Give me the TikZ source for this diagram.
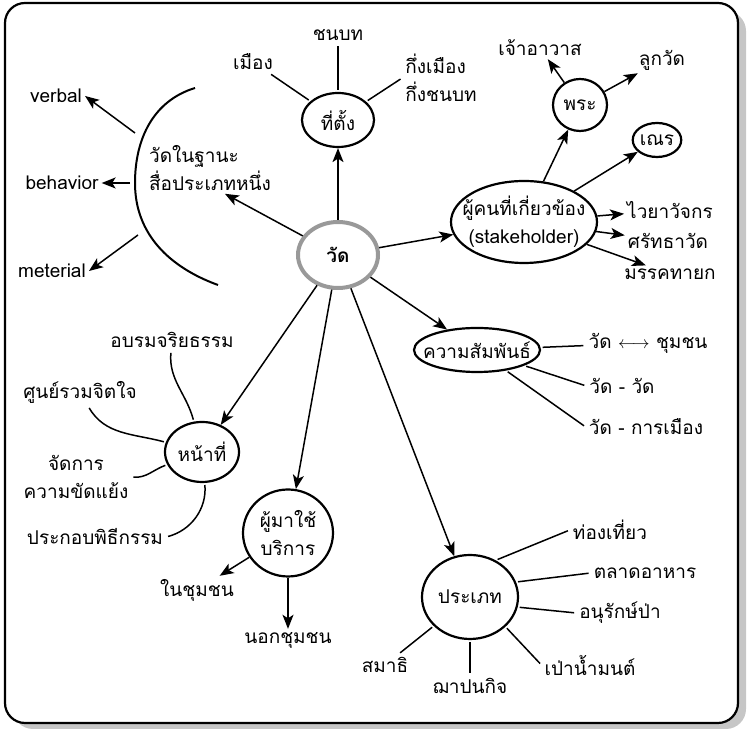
\documentclass[tikz,border=0pt]{standalone}
\usepackage{fontspec}
\newfontfamily\thaifont[Script=Thai]{Loma}
\usetikzlibrary{positioning}
\usetikzlibrary{shapes.geometric}
\usetikzlibrary{arrows.meta}

\tikzset{
	bubble/.style={draw, ellipse, line width=2.2pt, inner sep=0pt, align=center},
	leaf/.style={inner sep=3pt, align=center},
	arr/.style={->, line width=1.5pt},
	lnk/.style={line width=1.5pt, shorten <=2pt, shorten >=2pt},
	>={Stealth[length=14pt, width=11pt, inset=3.5pt]}
}

\begin{document}
\begin{tikzpicture}[x=1pt, y=1pt, on grid, nodes={font=\thaifont\fontsize{19}{28}\selectfont}]
		\useasboundingbox (0,0) rectangle (748,730);
		% frame with shadow
		\fill[gray!45, rounded corners=20pt] (13,1) rectangle (746,719);
		\draw[line width=2.2pt, fill=white, rounded corners=20pt] (5,7) rectangle (738,727);

		\node (wat) [draw=gray!80, ellipse, line width=4pt, minimum width=80pt, minimum height=66pt, inner sep=0pt] at (338,475) {\bfseries วัด};

		\node (tt) [bubble, above=135pt of wat, minimum width=72pt, minimum height=54pt] {ที่ตั้ง};
		\node (muang) [leaf, above left=58pt and 85pt of tt] {เมือง};
		\node (chonbot) [leaf, above=85pt of tt] {ชนบท};
		\node (kueng) [leaf, align=left, above right=42pt and 103pt of tt] {กึ่งเมือง\\กึ่งชนบท};

		\node (suea) [leaf, align=left, above left=87pt and 128pt of wat] {วัดในฐานะ\\สื่อประเภทหนึ่ง};
		\node (verbal) [leaf, above left=72pt and 154pt of suea] {verbal};
		\node (behavior) [leaf, below left=15pt and 148pt of suea] {behavior};
		\node (meterial) [leaf, below left=103pt and 158pt of suea] {meterial};
		\coordinate (b1) at (135,597);
		\coordinate (b2) at (130,547);
		\coordinate (b3) at (138,495);

		\node (people) [bubble, inner xsep=-20pt, above right=33pt and 186pt of wat, minimum width=146pt, minimum height=82pt] {ผู้คนที่เกี่ยวข้อง\\(stakeholder)};
		\node (phra) [bubble, above right=117pt and 56pt of people, minimum width=54pt, minimum height=52pt] {พระ};
		\node (chao) [leaf, above left=57pt and 40pt of phra] {เจ้าอาวาส};
		\node (lukwat) [leaf, above right=45pt and 82pt of phra] {ลูกวัด};
		\node (nen) [bubble, above right=82pt and 133pt of people, minimum width=44pt, minimum height=34pt] {เณร};
		\node (waiya) [leaf, above right=12pt and 146pt of people] {ไวยาวัจกร};
		\node (sattha) [leaf, below right=19pt and 144pt of people] {ศรัทธาวัด};
		\node (mak) [leaf, below right=52pt and 146pt of people] {มรรคทายก};

		\node (samphan) [bubble, inner xsep=-12pt, below right=95pt and 139pt of wat, minimum width=126pt, minimum height=44pt] {ความสัมพันธ์};
		\node (wc) [leaf, above right=7pt and 171pt of samphan] {วัด $\longleftrightarrow$ ชุมชน};
		\node (ww) [leaf, below right=36pt and 145pt of samphan] {วัด - วัด};
		\node (wp) [leaf, below right=77pt and 169pt of samphan] {วัด - การเมือง};

		\node (nathi) [bubble, below left=197pt and 136pt of wat, minimum width=74pt, minimum height=60pt] {หน้าที่};
		\node (oprom) [leaf, above left=112pt and 30pt of nathi] {อบรมจริยธรรม};
		\node (sun) [leaf, above left=60pt and 122pt of nathi] {ศูนย์รวมจิตใจ};
		\node (jadkan) [leaf, below left=25pt and 126pt of nathi] {จัดการ\\ความขัดแย้ง};
		\node (prakop) [leaf, below left=85pt and 107pt of nathi] {ประกอบพิธีกรรม};

		\node (phuma) [bubble, below left=278pt and 50pt of wat, minimum width=90pt, minimum height=87pt] {ผู้มาใช้\\บริการ};
		\node (nai) [leaf, below left=57pt and 91pt of phuma] {ในชุมชน};
		\node (nok) [leaf, below=107pt of phuma] {นอกชุมชน};

		\node (praphet) [bubble, below right=342pt and 132pt of wat, minimum width=96pt, minimum height=84pt] {ประเภท};
		\node (thong) [leaf, above right=67pt and 140pt of praphet] {ท่องเที่ยว};
		\node (talat) [leaf, above right=24pt and 175pt of praphet] {ตลาดอาหาร};
		\node (anurak) [leaf, below right=16pt and 150pt of praphet] {อนุรักษ์ป่า};
		\node (pao) [leaf, below right=68pt and 120pt of praphet] {เป่าน้ำมนต์};
		\node (chapana) [leaf, below=89pt of praphet] {ฌาปนกิจ};
		\node (samathi) [leaf, below left=68pt and 85pt of praphet] {สมาธิ};

		% bracket
		\draw[line width=2pt] (195,642) to[out=197, in=90] (135,547) to[out=-90, in=160] (218,445);

		\draw[arr] (wat) -- (tt);
		\draw[lnk] (tt) -- (muang);
		\draw[lnk] (tt) -- (chonbot);
		\draw[lnk] (tt) -- (kueng.west);
		\draw[arr] (wat) -- (suea.-60);
		\draw[arr] (b1) -- (verbal.east);
		\draw[arr] (b2) -- (behavior.east);
		\draw[arr] (b3) -- (meterial.east);
		\draw[arr] (wat) -- (people);
		\draw[arr] (people) -- (phra);
		\draw[arr] (phra) -- (chao);
		\draw[arr] (phra) -- (lukwat);
		\draw[arr] (people) -- (nen);
		\draw[arr] (people) -- (waiya);
		\draw[arr] (people) -- (sattha);
		\draw[arr] (people) -- (mak);
		\draw[arr] (wat) -- (samphan);
		\draw[lnk] (samphan) -- (wc);
		\draw[lnk] (samphan) -- (ww.west);
		\draw[lnk] (samphan) -- (wp.west);
		\draw[arr] (wat) -- (nathi);
		\draw[lnk] (oprom) to[out=-95, in=105] (nathi);
		\draw[lnk] (sun) to[out=-60, in=165] (nathi);
		\draw[lnk] (jadkan.east) to[out=-5, in=200] (nathi);
		\draw[lnk] (nathi) to[out=-85, in=15] (prakop.east);
		\draw[arr] (wat) -- (phuma);
		\draw[arr] (phuma) -- (nai);
		\draw[arr] (phuma) -- (nok);
		\draw[arr] (wat) -- (praphet);
		\draw[lnk] (praphet.55) -- (thong.west);
		\draw[lnk] (praphet.18) -- (talat.west);
		\draw[lnk] (praphet.-12) -- (anurak.west);
		\draw[lnk] (praphet.-40) -- (pao.west);
		\draw[lnk] (praphet) -- (chapana);
		\draw[lnk] (praphet) -- (samathi);
\end{tikzpicture}
\end{document}
